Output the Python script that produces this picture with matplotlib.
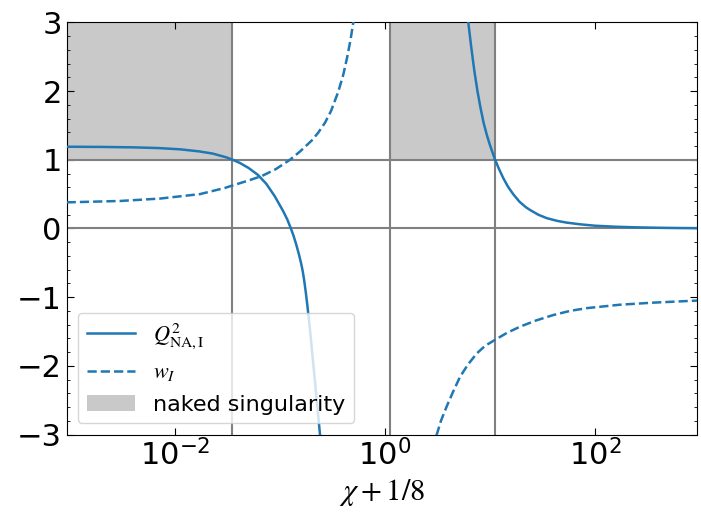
import numpy as np
import matplotlib
matplotlib.use("Agg")
import matplotlib.pyplot as plt
from matplotlib.ticker import MultipleLocator, NullLocator, FixedLocator

plt.rcParams['mathtext.fontset'] = 'stix'
plt.rcParams['font.family'] = ['DejaVu Sans']

# x = chi + 1/8 (log axis)
x_lim = (9.3e-4, 9.3e2)
y_lim = (-3.0, 3.0)

# Q^2_{NA,I}: branch below the pole
q_left_x = [9.33e-4, 2.0e-3, 3.98e-3, 7.08e-3, 1.122e-2, 1.70e-2, 2.29e-2, 3.09e-2,
            3.55e-2, 4.17e-2, 5.01e-2, 6.17e-2, 7.41e-2, 8.91e-2, 0.107, 0.1175,
            0.127, 0.1349, 0.1429, 0.1514, 0.1585, 0.1641, 0.1698, 0.1758,
            0.182, 0.1884, 0.195, 0.2042, 0.2138, 0.2239, 0.2344, 0.2404, 0.2512]
q_left_y = [1.19, 1.187, 1.181, 1.17, 1.152, 1.122, 1.09, 1.035,
            1.0, 0.952, 0.882, 0.78, 0.65, 0.47, 0.255, 0.13,
            0.0, -0.11, -0.235, -0.375, -0.50, -0.61, -0.75, -0.92,
            -1.11, -1.32, -1.54, -1.86, -2.18, -2.50, -2.82, -3.0, -3.3]
# Q^2_{NA,I}: branch above the pole
q_right_x = [5.89, 6.21, 6.61, 7.08, 7.59, 8.13, 8.71, 9.33, 10.0, 11.17,
             12.3, 13.4, 14.8, 16.6, 19.05, 21.9, 24.0, 28.8, 34.7, 43.7,
             53.7, 72.4, 100.0, 158.0, 251.0, 398.0, 631.0, 933.0]
q_right_y = [3.3, 3.0, 2.65, 2.3, 2.0, 1.75, 1.53, 1.36, 1.21, 1.0,
             0.85, 0.73, 0.61, 0.50, 0.39, 0.31, 0.27, 0.20, 0.15, 0.11,
             0.085, 0.06, 0.04, 0.025, 0.016, 0.01, 0.006, 0.004]

# w_I: branch below the pole
w_left_x = [9.3e-4, 2.99e-3, 7.19e-3, 1.73e-2, 2.99e-2, 3.56e-2, 5.18e-2, 6.75e-2,
            9.16e-2, 0.1245, 0.155, 0.2004, 0.2301, 0.2685, 0.3062, 0.3589,
            0.4009, 0.4345, 0.4688, 0.4989, 0.5297]
w_left_y = [0.38, 0.40, 0.435, 0.50, 0.59, 0.627, 0.705, 0.765,
            0.865, 1.0, 1.12, 1.28, 1.39, 1.54, 1.71, 1.99,
            2.24, 2.48, 2.74, 3.0, 3.27]
# w_I: branch above the pole
w_right_x = [2.86, 3.11, 3.41, 3.87, 4.44, 5.18, 6.17, 7.47, 8.96, 11.2,
             14.5, 19.3, 27.4, 40.1, 57.8, 83.4, 173.0, 359.0, 936.0]
w_right_y = [-3.2, -3.0, -2.8, -2.59, -2.38, -2.16, -1.98, -1.82, -1.71, -1.62,
             -1.52, -1.43, -1.34, -1.26, -1.20, -1.16, -1.11, -1.08, -1.05]

# naked-singularity intervals in x (Q^2 > 1 region), shaded from y = 1 upward
naked_intervals = [(x_lim[0], 0.0352), (1.12, 11.1)]
guide_x = [0.0352, 1.12, 11.1]
guide_y = [0.0, 1.0]

blue = '#1f77b4'

fig = plt.figure(figsize=(7.01, 5.21), dpi=100)
ax = fig.add_axes([0.095, 0.166, 0.899, 0.791])

for i, (a, b) in enumerate(naked_intervals):
    ax.fill_between([a, b], guide_y[1], y_lim[1], color='0.79', lw=0, zorder=1,
                    label='naked singularity' if i == 0 else None)

for gx in guide_x:
    ax.axvline(gx, color='0.5', lw=1.5, zorder=2)
for gy in guide_y:
    ax.axhline(gy, color='0.5', lw=1.5, zorder=2)

ax.plot(q_left_x, q_left_y, color=blue, lw=1.8, zorder=3, label=r'$Q^2_{\rm NA,I}$')
ax.plot(q_right_x, q_right_y, color=blue, lw=1.8, zorder=3)
ax.plot(w_left_x, w_left_y, color=blue, lw=1.8, ls='--', zorder=3, label=r'$w_I$')
ax.plot(w_right_x, w_right_y, color=blue, lw=1.8, ls='--', zorder=3)

ax.set_xscale('log')
ax.set_xlim(*x_lim)
ax.set_ylim(*y_lim)
ax.xaxis.set_major_locator(FixedLocator([1e-2, 1e0, 1e2]))
ax.xaxis.set_minor_locator(NullLocator())
ax.yaxis.set_major_locator(MultipleLocator(1))
ax.yaxis.set_minor_locator(MultipleLocator(0.2))
ax.tick_params(which='both', direction='in', top=True, right=True, labelsize=22)
ax.tick_params(which='major', length=5)
ax.tick_params(which='minor', length=2.5)

ax.set_xlabel(r'$\chi+1/8$', fontsize=22, labelpad=4)

handles, labels = ax.get_legend_handles_labels()
order = [labels.index(r'$Q^2_{\rm NA,I}$'), labels.index(r'$w_I$'), labels.index('naked singularity')]
ax.legend([handles[i] for i in order], [labels[i] for i in order],
          loc='lower left', fontsize=16, handlelength=2.2, borderaxespad=0.5)

fig.savefig('out.png', dpi=100)
